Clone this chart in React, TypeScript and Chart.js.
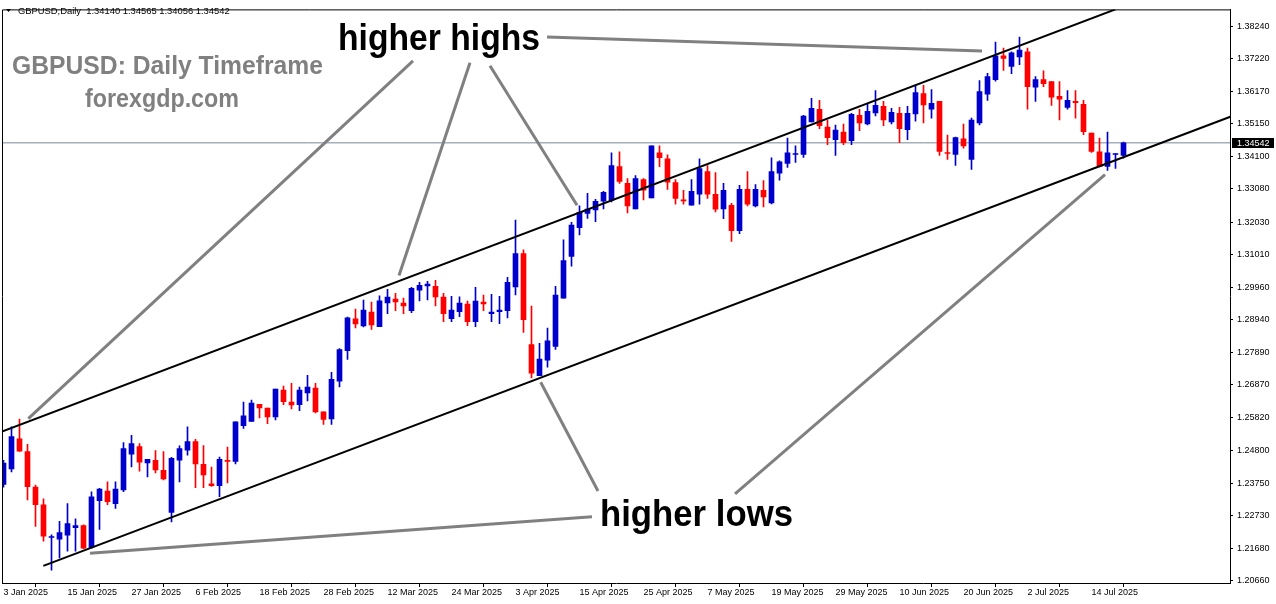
import React, { useEffect, useRef } from 'react';
import { Chart, registerables } from 'chart.js';

Chart.register(...registerables);

// ---- data ----
const symbolTitle = 'GBPUSD,Daily';
const tickLabels = [
  '3 Jan 2025', '15 Jan 2025', '27 Jan 2025', '6 Feb 2025', '18 Feb 2025', '28 Feb 2025',
  '12 Mar 2025', '24 Mar 2025', '3 Apr 2025', '15 Apr 2025', '25 Apr 2025', '7 May 2025',
  '19 May 2025', '29 May 2025', '10 Jun 2025', '20 Jun 2025', '2 Jul 2025', '14 Jul 2025',
];
const ticksEvery = 8;
const priceTicks = [
  1.3824, 1.3722, 1.3617, 1.3515, 1.341, 1.3308, 1.3203, 1.3101, 1.2996,
  1.2894, 1.2789, 1.2687, 1.2582, 1.248, 1.2375, 1.2273, 1.2168, 1.2066,
];

const opens = [
  1.23714, 1.24203, 1.25156, 1.24758, 1.23629, 1.23065, 1.2203, 1.21977, 1.22102, 1.22344,
  1.22406, 1.21716, 1.23199, 1.23504, 1.23105, 1.23535, 1.24673, 1.24915, 1.24391, 1.24476,
  1.24162, 1.22823, 1.24485, 1.24799, 1.25071, 1.2435, 1.23733, 1.2367, 1.24476, 1.24444,
  1.25573, 1.25708, 1.26253, 1.26137, 1.25855, 1.26702, 1.26325, 1.26241, 1.26617, 1.26764,
  1.26012, 1.25792, 1.26984, 1.27956, 1.28959, 1.2874, 1.29179, 1.28718, 1.2947, 1.29586,
  1.29461, 1.29219, 1.29868, 1.30003, 1.29994, 1.29649, 1.28969, 1.29188, 1.2943, 1.28875,
  1.29492, 1.29125, 1.29188, 1.29219, 1.29972, 1.31029, 1.28144, 1.27163, 1.27652, 1.28091,
  1.29618, 1.30944, 1.31853, 1.32305, 1.32418, 1.3269, 1.32722, 1.33788, 1.33255, 1.32449,
  1.3338, 1.32794, 1.34227, 1.34039, 1.33286, 1.32722, 1.32565, 1.32919, 1.33631, 1.3291,
  1.32449, 1.32565, 1.31759, 1.33067, 1.32543, 1.33035, 1.32637, 1.33578, 1.33891, 1.34173,
  1.34173, 1.35208, 1.35606, 1.35042, 1.34644, 1.34885, 1.34612, 1.35418, 1.35145, 1.3549,
  1.357, 1.35208, 1.35481, 1.34957, 1.35459, 1.36108, 1.35606, 1.35857, 1.34227, 1.34173,
  1.34666, 1.34017, 1.35177, 1.36086, 1.36547, 1.37299, 1.36964, 1.37268, 1.37425, 1.36305,
  1.36547, 1.36484, 1.36014, 1.35669, 1.35857, 1.35763, 1.34854, 1.34258, 1.33797, 1.34173,
  1.3414,
];
const highs = [
  1.24476, 1.25542, 1.25783, 1.24987, 1.23692, 1.23253, 1.22115, 1.22541, 1.23105, 1.22626,
  1.22428, 1.23482, 1.23588, 1.23795, 1.23795, 1.2504, 1.25269, 1.25009, 1.24507, 1.24789,
  1.24758, 1.2457, 1.24937, 1.25542, 1.25143, 1.24946, 1.24266, 1.24579, 1.24893, 1.25698,
  1.26325, 1.26388, 1.26253, 1.26137, 1.26733, 1.26827, 1.26921, 1.26796, 1.27172, 1.26921,
  1.26012, 1.27266, 1.28019, 1.29022, 1.29273, 1.29555, 1.29492, 1.2969, 1.299, 1.29774,
  1.29618, 1.29963, 1.30119, 1.30151, 1.30182, 1.29774, 1.2968, 1.29658, 1.29524, 1.29963,
  1.29712, 1.29743, 1.2968, 1.30276, 1.32095, 1.31154, 1.29367, 1.28185, 1.28668, 1.29994,
  1.31468, 1.32022, 1.32543, 1.32941, 1.32753, 1.33004, 1.34227, 1.34258, 1.33412, 1.33506,
  1.33412, 1.34446, 1.34446, 1.34164, 1.3338, 1.33035, 1.3338, 1.34039, 1.33819, 1.336,
  1.33255, 1.32628, 1.33192, 1.33631, 1.33223, 1.33349, 1.3407, 1.33976, 1.34697, 1.34446,
  1.35418, 1.35951, 1.35888, 1.35261, 1.35105, 1.35136, 1.35481, 1.35606, 1.35763, 1.36202,
  1.35857, 1.35638, 1.35669, 1.357, 1.36359, 1.36368, 1.36233, 1.35857, 1.34791, 1.34728,
  1.35136, 1.35324, 1.36516, 1.36744, 1.37738, 1.3755, 1.37425, 1.37895, 1.3755, 1.36641,
  1.36829, 1.36484, 1.36484, 1.36202, 1.36202, 1.35888, 1.34854, 1.34697, 1.34885, 1.34205,
  1.34565,
];
const lows = [
  1.23629, 1.24109, 1.24758, 1.23221, 1.22384, 1.21914, 1.20995, 1.21381, 1.216, 1.216,
  1.21676, 1.21694, 1.2229, 1.23074, 1.22949, 1.23482, 1.24266, 1.24131, 1.23952, 1.24077,
  1.23858, 1.22522, 1.23795, 1.24642, 1.23607, 1.23607, 1.23651, 1.23325, 1.23764, 1.2436,
  1.25488, 1.25708, 1.25824, 1.25636, 1.25761, 1.26241, 1.26106, 1.26053, 1.26357, 1.25981,
  1.25614, 1.25614, 1.26805, 1.27674, 1.28677, 1.28708, 1.28624, 1.28718, 1.29125, 1.29219,
  1.29125, 1.29157, 1.29533, 1.29564, 1.29376, 1.28875, 1.28875, 1.29031, 1.28749, 1.28718,
  1.29219, 1.28875, 1.28812, 1.28991, 1.29721, 1.2853, 1.27087, 1.27163, 1.27432, 1.27997,
  1.29618, 1.3063, 1.31624, 1.32148, 1.32041, 1.32449, 1.32668, 1.33255, 1.32323, 1.32449,
  1.32731, 1.32794, 1.33788, 1.33067, 1.32596, 1.32596, 1.32565, 1.32596, 1.32784, 1.32355,
  1.32135, 1.31414, 1.31665, 1.32543, 1.32512, 1.32512, 1.32606, 1.33358, 1.33766, 1.33923,
  1.34079, 1.35208, 1.34989, 1.34487, 1.34142, 1.34487, 1.34487, 1.34926, 1.35114, 1.35396,
  1.35083, 1.35145, 1.3455, 1.34644, 1.3523, 1.35177, 1.35324, 1.34142, 1.34017, 1.33829,
  1.34374, 1.33703, 1.35114, 1.35888, 1.36494, 1.36838, 1.36735, 1.37017, 1.35606, 1.35857,
  1.36327, 1.35732, 1.35271, 1.35606, 1.35324, 1.348, 1.34236, 1.33778, 1.33672, 1.33734,
  1.34056,
];
const closes = [
  1.24391, 1.25228, 1.24767, 1.23638, 1.23074, 1.22071, 1.22061, 1.22187, 1.22469, 1.22406,
  1.21694, 1.23316, 1.23566, 1.23168, 1.23566, 1.24852, 1.25009, 1.24422, 1.24507, 1.24171,
  1.23889, 1.24538, 1.24852, 1.25071, 1.2436, 1.24015, 1.2367, 1.24507, 1.24444, 1.25698,
  1.25887, 1.26294, 1.26137, 1.25855, 1.26733, 1.26335, 1.26231, 1.26702, 1.26796, 1.26012,
  1.25771, 1.27047, 1.27987, 1.28991, 1.28802, 1.29241, 1.28771, 1.29533, 1.29649, 1.29502,
  1.29376, 1.29931, 1.30025, 1.30066, 1.29658, 1.29125, 1.29241, 1.29461, 1.28875, 1.29524,
  1.29439, 1.29179, 1.29241, 1.30119, 1.31029, 1.28937, 1.27244, 1.27683, 1.28269, 1.29712,
  1.30809, 1.31938, 1.32336, 1.3244, 1.3269, 1.32973, 1.33819, 1.33317, 1.32543, 1.33412,
  1.33045, 1.34446, 1.3407, 1.33295, 1.32784, 1.327, 1.33004, 1.33725, 1.32919, 1.3244,
  1.33035, 1.31759, 1.33067, 1.32596, 1.33067, 1.32825, 1.33631, 1.33944, 1.34227, 1.34195,
  1.35387, 1.35638, 1.35083, 1.34706, 1.34948, 1.3455, 1.3545, 1.35177, 1.35544, 1.35732,
  1.35271, 1.35512, 1.34989, 1.35481, 1.36139, 1.35741, 1.35794, 1.34267, 1.34205, 1.34706,
  1.34446, 1.35261, 1.36171, 1.36641, 1.37299, 1.37215, 1.37393, 1.37487, 1.36327, 1.36547,
  1.36421, 1.35992, 1.35929, 1.35888, 1.35816, 1.34895, 1.34267, 1.33797, 1.34227, 1.34205,
  1.34542,
];

// trend channel lines: [barIndex, price] end points
const upperChannel = [[-0.19, 1.25385], [139, 1.38775]];
const lowerChannel = [[4.975, 1.2113], [160, 1.36008]];
// grey pointer lines from the captions: [barIndex, price] end points
const pointerHighs = [
  [[51.19, 1.37143], [3.1, 1.25802]],
  [[58.31, 1.3708], [49.44, 1.30339]],
  [[60.81, 1.36986], [71.69, 1.32565]],
  [[67.94, 1.37895], [122.31, 1.37456]],
];
const pointerLows = [
  [[67.15, 1.26953], [74.31, 1.23504]],
  [[91.44, 1.2341], [137.69, 1.33537]],
  [[10.81, 1.21528], [73.56, 1.22688]],
];

const BULL = '#0000CC';
const BEAR = '#FF0000';
const FONT = "'Liberation Sans', Arial, sans-serif";

export default function App() {
  const ref = useRef<HTMLCanvasElement | null>(null);

  useEffect(() => {
    const canvas = ref.current;
    if (!canvas) return;
    const n = opens.length;
    const idx = opens.map((_, i) => i);
    const colors = idx.map((i) => (closes[i] >= opens[i] ? BULL : BEAR));
    const last = n - 1;
    const lastClose = closes[last];

    const lineDs = (pts: number[][], color: string, width: number, order: number) => ({
      type: 'line' as const,
      data: pts.map((p) => ({ x: p[0], y: p[1] })),
      borderColor: color,
      backgroundColor: color,
      borderWidth: width,
      pointRadius: 0,
      tension: 0,
      fill: false,
      order,
    });

    const datasets: any[] = [
      {
        type: 'bar',
        label: 'body',
        data: idx.map((i) => ({ x: i, y: [opens[i], closes[i]] })),
        backgroundColor: colors,
        borderWidth: 0,
        barThickness: 5,
        minBarLength: 1,
        grouped: false,
        order: 1,
      },
      {
        type: 'bar',
        label: 'wick',
        data: idx.map((i) => ({ x: i, y: [lows[i], highs[i]] })),
        backgroundColor: colors,
        borderWidth: 0,
        barThickness: 1,
        minBarLength: 1,
        grouped: false,
        order: 2,
      },
      lineDs([[-5, lastClose], [200, lastClose]], '#778899', 1, 3),
      lineDs(upperChannel, '#000000', 2, 0),
      lineDs(lowerChannel, '#000000', 2, 0),
      ...pointerHighs.map((p) => lineDs(p, '#808080', 3, 0)),
      ...pointerLows.map((p) => lineDs(p, '#808080', 3, 0)),
    ];

    const overlay = {
      id: 'overlay',
      afterDraw(chart: any) {
        const { ctx, chartArea, scales } = chart;
        ctx.save();
        // plot frame (top & left)
        ctx.strokeStyle = '#000';
        ctx.lineWidth = 1;
        ctx.beginPath();
        ctx.moveTo(chartArea.left + 0.5, chartArea.bottom);
        ctx.lineTo(chartArea.left + 0.5, chartArea.top + 0.5);
        ctx.lineTo(chartArea.right + 1, chartArea.top + 0.5);
        ctx.stroke();

        // current price box
        const py = Math.round(scales.y.getPixelForValue(lastClose));
        ctx.fillStyle = '#000';
        ctx.fillRect(chartArea.right + 2, py - 5, 42, 10);
        ctx.fillStyle = '#fff';
        ctx.font = `9px ${FONT}`;
        ctx.textBaseline = 'middle';
        ctx.textAlign = 'left';
        ctx.fillText(lastClose.toFixed(5), chartArea.right + 7, py + 0.5);

        // header
        ctx.fillStyle = '#000';
        ctx.beginPath();
        ctx.moveTo(6, 9);
        ctx.lineTo(11, 9);
        ctx.lineTo(8.5, 12);
        ctx.closePath();
        ctx.fill();
        ctx.textBaseline = 'alphabetic';
        ctx.font = `9.4px ${FONT}`;
        const hdr = `${symbolTitle}  ${opens[last].toFixed(5)} ${highs[last].toFixed(5)} ${lows[last].toFixed(5)} ${closes[last].toFixed(5)}`;
        ctx.fillText(hdr, 18, 14);

        // watermark captions
        ctx.fillStyle = '#808080';
        ctx.font = `bold 26px ${FONT}`;
        ctx.fillText('GBPUSD: Daily Timeframe', 12, 74, 311);
        ctx.font = `bold 25px ${FONT}`;
        ctx.fillText('forexgdp.com', 85, 107, 154);

        // annotations
        ctx.fillStyle = '#000';
        ctx.font = `bold 37px ${FONT}`;
        ctx.fillText('higher highs', 338, 50, 202);
        ctx.fillText('higher lows', 600, 526, 193);
        ctx.restore();
      },
    };

    const chart = new Chart(canvas, {
      type: 'bar',
      data: { datasets },
      plugins: [overlay],
      options: {
        responsive: false,
        animation: false,
        devicePixelRatio: 1,
        layout: { padding: { left: 2, top: 3, right: 0, bottom: 0 } },
        plugins: { legend: { display: false }, tooltip: { enabled: false }, title: { display: false } },
        scales: {
          x: {
            type: 'linear',
            offset: false,
            min: -0.1875,
            max: 153.3125,
            grid: { display: true, drawOnChartArea: false, drawTicks: true, tickLength: 4, color: '#000', tickColor: '#000' },
            border: { display: true, color: '#000', width: 1 },
            afterBuildTicks: (scale: any) => {
              scale.ticks = tickLabels.map((_, k) => ({ value: k * ticksEvery }));
            },
            afterFit: (scale: any) => {
              scale.height = 21;
            },
            ticks: {
              autoSkip: false,
              maxRotation: 0,
              minRotation: 0,
              align: 'start',
              padding: 0,
              color: '#000',
              font: { family: FONT, size: 9 },
              callback: (_v: any, i: number) => tickLabels[i],
            },
          },
          y: {
            type: 'linear',
            position: 'right',
            min: 1.205877,
            max: 1.38773,
            grid: { display: true, drawOnChartArea: false, drawTicks: true, tickLength: 3, color: '#000', tickColor: '#000' },
            border: { display: true, color: '#000', width: 1 },
            afterBuildTicks: (scale: any) => {
              scale.ticks = priceTicks.map((v) => ({ value: v }));
            },
            afterFit: (scale: any) => {
              scale.width = 46;
            },
            ticks: {
              autoSkip: false,
              padding: 4,
              color: '#000',
              font: { family: FONT, size: 9 },
              callback: (v: any) => Number(v).toFixed(5),
            },
          },
        },
      } as any,
    });
    return () => chart.destroy();
  }, []);

  return (
    <div style={{ position: 'fixed', left: 0, top: 0, width: 1276, height: 604, background: '#fff' }}>
      <canvas ref={ref} width={1276} height={604} style={{ display: 'block', width: 1276, height: 604 }} />
    </div>
  );
}
